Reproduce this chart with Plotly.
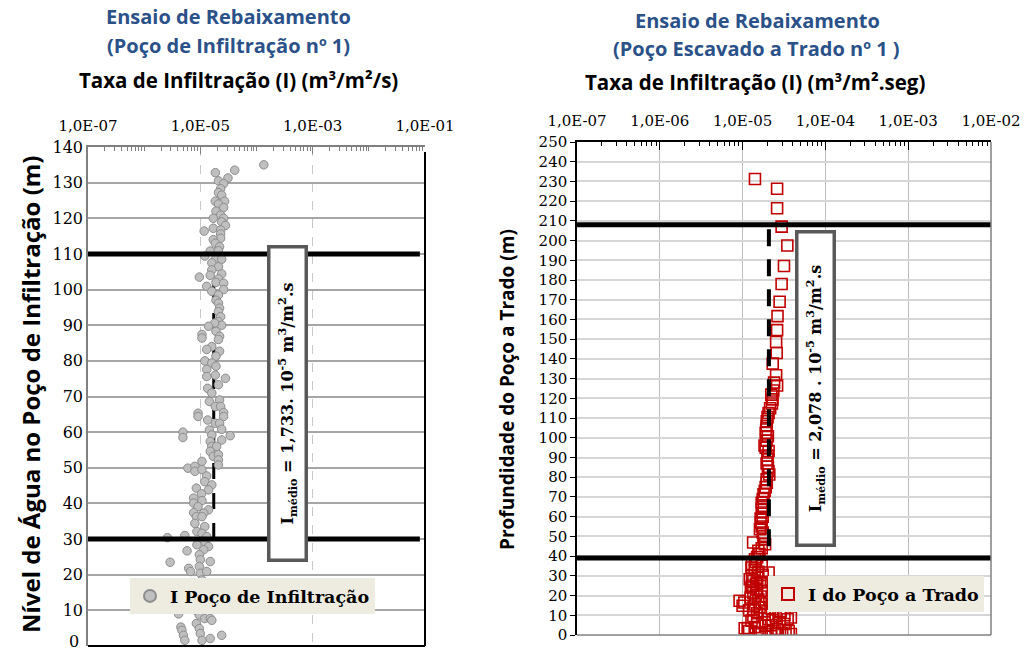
import plotly.graph_objects as go

# ---------------- data ----------------
depth_left = [132.8, 133.5, 131.3, 130.5, 129.7, 128.3, 127.2, 126.5, 124.8, 124.8, 124.0, 123.0, 122.0, 120.9,
              120.0, 120.0, 119.0, 118.0, 117.2, 116.4, 116.7, 115.6, 114.4, 114.0, 113.0, 112.0, 110.8, 110.9,
              109.4, 108.5, 108.5, 107.5, 106.4, 105.5, 104.0, 103.5, 104.4, 103.0, 102.0, 101.8, 100.9, 99.5,
              100.0, 98.5, 97.0, 96.2, 94.8, 93.8, 92.4, 91.0, 90.0, 90.6, 89.7, 88.3, 86.9, 87.4, 86.4, 86.0,
              84.0, 83.2, 82.7, 81.3, 80.0, 79.4, 78.5, 77.6, 76.0, 75.6, 75.1, 73.3, 72.3, 71.0, 69.0, 68.6,
              67.2, 67.2, 65.5, 65.3, 64.4, 64.4, 63.4, 62.5, 62.5, 60.8, 60.6, 59.2, 60.0, 58.5, 59.0, 57.8,
              57.4, 56.0, 56.0, 54.6, 53.2, 53.7, 52.2, 50.8, 51.8, 49.9, 50.4, 49.0, 49.5, 47.7, 46.1, 45.2,
              43.8, 44.3, 42.7, 41.5, 40.1, 40.8, 39.1, 38.2, 37.3, 37.4, 36.3, 36.3, 34.4, 33.5, 32.1, 31.6,
              30.7, 30.4, 31.0, 29.3, 27.9, 28.4, 27.0, 26.7, 25.6, 24.2, 23.7, 23.5, 22.3, 21.8, 20.9, 20.4,
              20.9, 18.5, 17.1, 15.7, 14.7, 13.3, 12.1, 11.0, 9.0, 9.9, 8.7, 7.7, 7.7, 7.2, 5.3, 4.4, 3.0, 1.6,
              6.3, 4.9, 3.5, 1.6, 2.1, 3.0, 10.6, 11.1, 135.0]
rate_left = [1.85e-5, 4.1e-5, 3.1e-5, 2.1e-5, 2.6e-5, 2.3e-5, 2.1e-5, 2.4e-5, 1.85e-5, 2.7e-5, 2.1e-5, 2.6e-5, 1.9e-5, 2.3e-5,
             1.7e-5, 2.6e-5, 2.4e-5, 2.8e-5, 1.7e-5, 1.17e-5, 2.3e-5, 2.3e-5, 2.3e-5, 1.7e-5, 1.85e-5, 2.2e-5, 1.5e-5, 2.1e-5,
             1.2e-5, 1.85e-5, 2.4e-5, 1.6e-5, 2.1e-5, 1.6e-5, 1.5e-5, 9.6e-6, 2.4e-5, 2.1e-5, 1.9e-5, 2.6e-5, 1.3e-5, 1.6e-5,
             2.6e-5, 2.1e-5, 1.9e-5, 2.1e-5, 2.2e-5, 2.1e-5, 2.3e-5, 2.1e-5, 2.4e-5, 1.8e-5, 1.4e-5, 1.9e-5, 2.2e-5, 1.07e-5, 1.07e-5, 2.1e-5,
             1.6e-5, 1.3e-5, 2.2e-5, 1.9e-5, 1.2e-5, 1.6e-5, 1.9e-5, 1.3e-5, 1.85e-5, 1.3e-5, 2.8e-5, 2.1e-5, 1.35e-5, 1.6e-5, 2.2e-5, 1.45e-5,
             1.85e-5, 2.3e-5, 2.6e-5, 9.1e-6, 9.1e-6, 2.6e-5, 1.35e-5, 1.85e-5, 2.2e-5, 2.4e-5, 1.45e-5, 1.6e-5, 4.9e-6, 4.9e-6, 3.4e-5, 2.4e-5,
             1.5e-5, 1.6e-5, 1.95e-5, 1.5e-5, 1.7e-5, 2.1e-5, 2.1e-5, 2.1e-5, 1.07e-5, 6.0e-6, 8.0e-6, 8.0e-6, 1.07e-5, 1.3e-5, 1.2e-5, 1.6e-5,
             1.4e-5, 8.5e-6, 1.05e-5, 7.6e-6, 7.6e-6, 1.07e-5, 9.1e-6, 1.4e-5, 1.15e-5, 7.6e-6, 8.5e-6, 1.07e-5, 8.0e-6, 1.2e-5, 8.7e-6, 1.07e-5,
             1.3e-5, 2.6e-6, 5.3e-6, 1.2e-5, 1.4e-5, 8.7e-6, 1.15e-5, 5.8e-6, 9.6e-6, 1.0e-5, 1.5e-5, 2.9e-6, 9.6e-6, 6.2e-6, 6.7e-6, 1.0e-5,
             1.3e-5, 1.07e-5, 8.5e-6, 9.6e-6, 1.2e-5, 8.5e-6, 4.1e-6, 3.8e-6, 4.1e-6, 8.5e-6, 9.6e-6, 1.2e-5, 1.5e-5, 1.6e-5, 4.5e-6, 4.7e-6, 5.0e-6, 5.3e-6,
             8.5e-6, 9.6e-6, 1.0e-5, 1.07e-5, 1.5e-5, 2.4e-5, 1.6e-5, 1.7e-5, 1.35e-4]

depth_right = [231.2, 226.3, 216.4, 207.1, 197.5, 187.1, 178.0, 169.0, 161.7, 154.6, 148.6, 143.0, 137.6, 131.7,
               126.5, 121.9, 117.4, 112.6, 108.4, 104.2, 100.8, 96.1, 93.3, 89.0, 85.3, 81.4, 77.2, 71.3, 67.1,
               62.1, 57.0, 53.6, 50.3, 46.9, 46.0, 42.7, 38.4, 34.2, 35.1, 31.7, 28.3, 26.6, 24.1, 22.4, 17.4,
               14.8, 13.2, 13.2, 11.5, 8.9, 3.4, 1.3, 0.5, 0.5, 5.6, 4.7, 7.3, 8.1,
               128.0, 124.0, 119.5, 115.0, 110.5, 106.0, 102.5, 98.5, 95.0, 91.0, 87.0, 83.0, 79.0, 75.0, 73.0,
               69.0, 65.0, 64.0, 60.0, 59.0, 55.0, 52.0, 48.5, 44.0, 41.0,
               39.5, 37.0, 36.0, 33.0, 32.0, 30.0, 29.0, 27.5, 26.0, 25.0, 23.0, 21.5, 20.0, 19.0, 18.0, 16.5,
               15.5, 14.0, 12.5, 11.0, 10.5, 9.5, 10.0, 9.0, 7.5, 6.5, 6.0, 5.0, 4.0, 3.0, 2.5, 2.0, 1.5, 1.0,
               0.8, 0.5, 3.5, 27.0, 30.5, 19.5, 16.0, 12.0, 8.0, 2.0]
rate_right = [1.41e-5, 2.61e-5, 2.61e-5, 2.96e-5, 3.47e-5, 3.16e-5, 2.96e-5, 2.8e-5, 2.64e-5, 2.61e-5, 2.54e-5, 2.58e-5, 2.31e-5, 2.54e-5,
              2.61e-5, 2.22e-5, 2.26e-5, 2.06e-5, 1.96e-5, 1.93e-5, 2.02e-5, 1.84e-5, 2.06e-5, 1.99e-5, 2.02e-5, 2.1e-5, 1.96e-5, 1.79e-5, 1.7e-5,
              1.74e-5, 1.67e-5, 1.62e-5, 1.79e-5, 1.34e-5, 1.87e-5, 1.55e-5, 1.41e-5, 1.28e-5, 1.7e-5, 2.06e-5, 1.22e-5, 1.62e-5, 1.26e-5, 1.7e-5, 9.2e-6,
              1.0e-5, 1.34e-5, 2.26e-5, 2.88e-5, 3.83e-5, 1.06e-5, 1.55e-5, 2.5e-5, 3.83e-5, 3.16e-5, 1.87e-5, 1.28e-5, 2.06e-5,
              2.4e-5, 2.35e-5, 2.3e-5, 2.15e-5, 2.0e-5, 1.95e-5, 1.9e-5, 1.95e-5, 1.9e-5, 2.0e-5, 1.95e-5, 2.05e-5, 1.95e-5, 1.9e-5, 1.85e-5,
              1.75e-5, 1.8e-5, 1.7e-5, 1.75e-5, 1.65e-5, 1.7e-5, 1.75e-5, 1.8e-5, 1.7e-5, 1.6e-5,
              1.5e-5, 1.45e-5, 1.3e-5, 1.4e-5, 1.55e-5, 1.3e-5, 1.5e-5, 1.35e-5, 1.45e-5, 1.3e-5, 1.5e-5, 1.35e-5, 1.45e-5, 1.25e-5, 1.55e-5, 1.05e-5,
              1.4e-5, 1.6e-5, 1.2e-5, 1.5e-5, 2.0e-5, 2.5e-5, 3.2e-5, 1.35e-5, 2.3e-5, 2.8e-5, 1.5e-5, 2.2e-5, 1.4e-5, 2.6e-5, 3.3e-5, 1.2e-5, 2.0e-5, 3.0e-5,
              1.7e-5, 2.2e-5, 1.15e-5, 1.7e-5, 1.75e-5, 1.65e-5, 1.7e-5, 1.85e-5, 3.5e-5, 3.6e-5]

levels_left = [110, 30]
levels_right = [208, 39]
mean_left = 1.733e-5
mean_right = 2.078e-5
mean_span_left = [30, 110]
mean_span_right = [45, 208]

xticks_left = [1e-7, 1e-5, 1e-3, 1e-1]
xticks_left_text = ["1,0E-07", "1,0E-05", "1,0E-03", "1,0E-01"]
xticks_right = [1e-7, 1e-6, 1e-5, 1e-4, 1e-3, 1e-2]
xticks_right_text = ["1,0E-07", "1,0E-06", "1,0E-05", "1,0E-04", "1,0E-03", "1,0E-02"]

# ---------------- figure ----------------
W, H = 1033, 652
SERIF = "DejaVu Serif"
SANS = "Open Sans"
BLUE = "#2B5189"

def px(xp):
    return xp / W

def py(yp):
    return 1 - yp / H

fig = go.Figure()

# left chart: dashed mean line (under markers)
fig.add_trace(go.Scatter(x=[mean_left, mean_left], y=mean_span_left, mode="lines",
                         line=dict(color="black", width=3, dash="16px,14px"),
                         xaxis="x", yaxis="y", showlegend=False, hoverinfo="skip"))
fig.add_trace(go.Scatter(x=rate_left, y=depth_left, mode="markers", name="I Poço de Infiltração",
                         marker=dict(symbol="circle", size=8.5, color="#BFBFBF",
                                     line=dict(color="#8C8C8C", width=1)),
                         xaxis="x", yaxis="y", legend="legend"))
for lv in levels_left:
    fig.add_trace(go.Scatter(x=[1e-7, 8.1e-2], y=[lv, lv], mode="lines",
                             line=dict(color="black", width=5),
                             xaxis="x", yaxis="y", showlegend=False, hoverinfo="skip"))

# right chart
fig.add_trace(go.Scatter(x=rate_right, y=depth_right, mode="markers", name="I do Poço a Trado",
                         marker=dict(symbol="square-open", size=11, color="#C00000",
                                     line=dict(color="#C00000", width=1.6)),
                         xaxis="x2", yaxis="y2", legend="legend2"))
fig.add_trace(go.Scatter(x=[mean_right, mean_right], y=mean_span_right, mode="lines",
                         line=dict(color="black", width=4, dash="17px,13px"),
                         xaxis="x2", yaxis="y2", showlegend=False, hoverinfo="skip"))
for lv in levels_right:
    fig.add_trace(go.Scatter(x=[1e-7, 1e-2], y=[lv, lv], mode="lines",
                             line=dict(color="black", width=5),
                             xaxis="x2", yaxis="y2", showlegend=False, hoverinfo="skip"))

minor_left = [k * 10.0 ** e for e in range(-7, -1) for k in range(1, 10) if not (k == 1 and e % 2 == 1)]
minor_left = [v for v in minor_left if v not in xticks_left]
minor_right = [k * 10.0 ** e for e in range(-7, -2) for k in range(2, 10)]

fig.update_layout(
    width=W, height=H,
    margin=dict(l=0, r=0, t=0, b=0, autoexpand=False),
    paper_bgcolor="white", plot_bgcolor="white",
    showlegend=True,
    xaxis=dict(type="log", range=[-7, -1], domain=[px(88), px(425)], anchor="y", side="top",
               automargin=False,
               tickmode="array", tickvals=xticks_left, ticktext=xticks_left_text,
               ticks="inside", ticklen=7, tickcolor="#808080", ticklabelstandoff=8,
               showline=True, linecolor="#808080", linewidth=1.5,
               showgrid=True, gridcolor="#C8C8C8", griddash="dash", gridwidth=1,
               minor=dict(tickmode="array", tickvals=minor_left, ticks="inside", ticklen=4,
                          tickcolor="#808080", showgrid=False),
               tickfont=dict(family=SERIF, size=15, color="black"), zeroline=False),
    yaxis=dict(range=[0, 140], domain=[py(646), py(147)], anchor="x", automargin=False,
               tickmode="linear", tick0=0, dtick=10, ticks="",
               showline=True, linecolor="#808080", linewidth=1.5,
               showgrid=True, gridcolor="#A6A6A6", gridwidth=1.6, zeroline=False,
               tickfont=dict(family=SERIF, size=16, color="black")),
    xaxis2=dict(type="log", range=[-7, -2], domain=[px(577), px(991)], anchor="y2", side="top",
                automargin=False,
                tickmode="array", tickvals=xticks_right, ticktext=xticks_right_text,
                ticks="inside", ticklen=8, tickcolor="black", ticklabelstandoff=8,
                showline=True, linecolor="black", linewidth=1.5,
                showgrid=True, gridcolor="#BDBDBD", gridwidth=1,
                minor=dict(tickmode="array", tickvals=minor_right, ticks="inside", ticklen=4,
                           tickcolor="black", showgrid=False),
                tickfont=dict(family=SERIF, size=15, color="black"), zeroline=False),
    yaxis2=dict(range=[0, 250], domain=[py(635), py(142)], anchor="x2", automargin=False,
                tickmode="linear", tick0=0, dtick=10, ticks="outside", ticklen=5, tickcolor="black",
                showline=True, linecolor="black", linewidth=1.5,
                showgrid=True, gridcolor="#D6D6D6", gridwidth=1.5, zeroline=False,
                tickfont=dict(family=SERIF, size=15, color="black")),
    legend=dict(x=px(130), y=py(578), xanchor="left", yanchor="top", bgcolor="#EEECE1",
                font=dict(family=SERIF, size=17.5, color="black", weight="bold"),
                itemsizing="constant", borderwidth=0, tracegroupgap=0, itemwidth=30),
    legend2=dict(x=px(768), y=py(576), xanchor="left", yanchor="top", bgcolor="#EEECE1",
                 font=dict(family=SERIF, size=17.5, color="black", weight="bold"),
                 itemsizing="constant", borderwidth=0, tracegroupgap=0, itemwidth=30),
)

# plot-area borders (right/bottom)
fig.add_shape(type="line", xref="x domain", yref="y domain", x0=1, x1=1, y0=0, y1=0.99,
              line=dict(color="black", width=2))
fig.add_shape(type="line", xref="x domain", yref="y domain", x0=0, x1=1, y0=0, y1=0,
              line=dict(color="black", width=2))
fig.add_shape(type="line", xref="x2 domain", yref="y2 domain", x0=1, x1=1, y0=0, y1=1,
              line=dict(color="#808080", width=1.5))
fig.add_shape(type="line", xref="x2 domain", yref="y2 domain", x0=0, x1=1, y0=0, y1=0,
              line=dict(color="#808080", width=1.5))

ann = []
def text(x, y, s, size, color="black", family=SANS, bold=True, angle=0):
    ann.append(dict(x=px(x), y=py(y), xref="paper", yref="paper", text=s, showarrow=False,
                    xanchor="center", yanchor="middle", textangle=angle,
                    font=dict(family=family, size=size, color=color, weight="bold" if bold else "normal")))

text(228, 17, "Ensaio de Rebaixamento", 20, BLUE)
text(228, 45, "(Poço de Infiltração nº 1)", 20, BLUE)
text(238, 80, "Taxa de Infiltração (I) (m³/m²/s)", 20.5)
text(757, 20, "Ensaio de Rebaixamento", 20, BLUE)
text(756, 48, "(Poço Escavado a Trado nº 1 )", 20, BLUE)
text(755, 82, "Taxa de Infiltração (I) (m³/m².seg)", 20.5)
text(31, 394, "Nível de Água no Poço de Infiltração (m)", 24, angle=-90)
text(507, 390, "Profundidade do Poço a Trado (m)", 19, angle=-90)
text(74, 641, "0", 16, family=SERIF, bold=False)

for (cx, cy, h, s) in [(287, 404, 306, "I<sub>médio</sub> = 1,733. 10<sup>-5</sup> m<sup>3</sup>/m<sup>2</sup>.s"),
                       (815, 389, 306, "I<sub>médio</sub> = 2,078 . 10<sup>-5</sup> m<sup>3</sup>/m<sup>2</sup>.s")]:
    ann.append(dict(x=px(cx), y=py(cy), xref="paper", yref="paper", text=s, showarrow=False,
                    xanchor="center", yanchor="middle", textangle=-90,
                    width=h, height=30, bgcolor="white", bordercolor="#595959", borderwidth=3.5,
                    borderpad=2, font=dict(family=SERIF, size=16, color="black", weight="bold")))

fig.update_layout(annotations=ann)
fig.write_html("out.html", config={"displayModeBar": False},
               post_script="document.body.style.margin='0';document.body.style.overflow='hidden';")
